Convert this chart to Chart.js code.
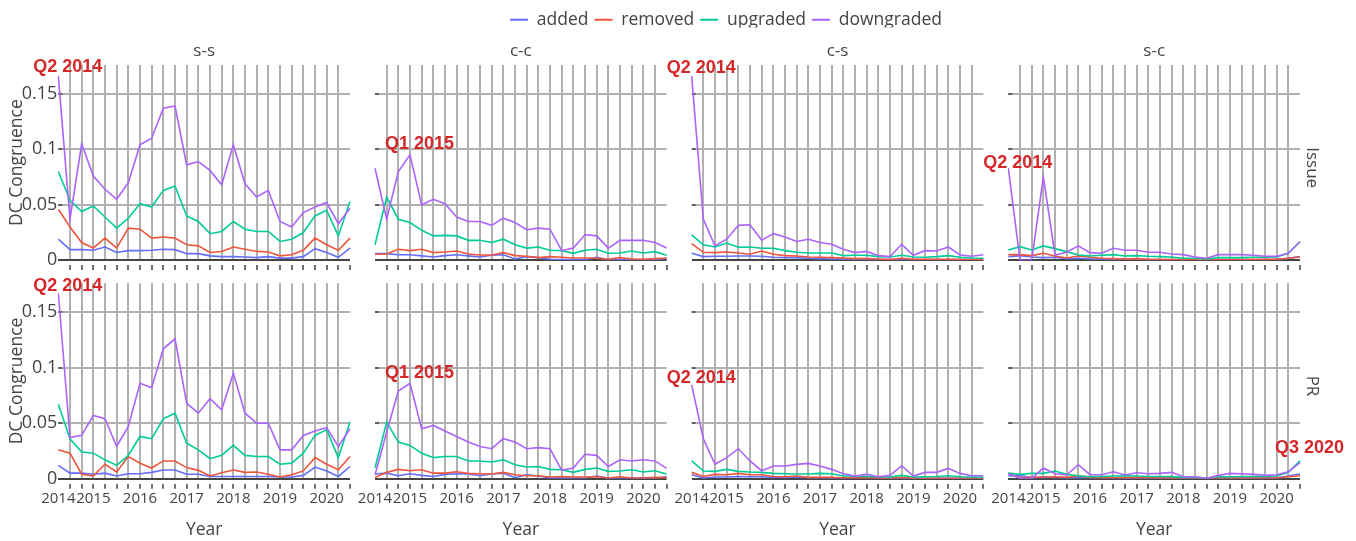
<!DOCTYPE html>
<html><head><meta charset="utf-8">
<script src="https://cdn.jsdelivr.net/npm/chart.js@4.4.1/dist/chart.umd.min.js"></script>
<style>
html,body{margin:0;padding:0;background:#fff;}
#wrap{position:relative;width:1356px;height:541px;overflow:hidden;background:#fff;}
#wrap canvas{position:absolute;top:0;}
</style></head><body><div id="wrap"></div>
<script>
// ---------- data ----------
const quarters = ['Q2 2014','Q3 2014','Q4 2014','Q1 2015','Q2 2015','Q3 2015','Q4 2015','Q1 2016','Q2 2016','Q3 2016','Q4 2016','Q1 2017','Q2 2017','Q3 2017','Q4 2017','Q1 2018','Q2 2018','Q3 2018','Q4 2018','Q1 2019','Q2 2019','Q3 2019','Q4 2019','Q1 2020','Q2 2020','Q3 2020'];
const xTickLabels = ['2014','','','2015','','','','2016','','','','2017','','','','2018','','','','2019','','','','2020','',''];
const yTickValues = [0, 0.05, 0.1, 0.15];
const yTickLabels = ['0', '0.05', '0.1', '0.15'];
const seriesNames = ['added', 'removed', 'upgraded', 'downgraded'];
const rowNames = ['Issue', 'PR'];
const colNames = ['s-s', 'c-c', 'c-s', 's-c'];

// Issue row
const issueSS_added = [0.019,0.0096,0.0096,0.009,0.012,0.007,0.0087,0.0087,0.009,0.010,0.0096,0.006,0.006,0.004,0.0033,0.0033,0.003,0.0024,0.0033,0.002,0.002,0.0033,0.0105,0.007,0.0027,0.011];
const issueSS_removed = [0.046,0.030,0.016,0.011,0.020,0.011,0.029,0.028,0.020,0.021,0.020,0.014,0.013,0.007,0.008,0.012,0.010,0.008,0.0075,0.004,0.005,0.009,0.020,0.014,0.009,0.020];
const issueSS_upgraded = [0.080,0.054,0.044,0.049,0.039,0.029,0.038,0.051,0.048,0.063,0.067,0.040,0.035,0.024,0.026,0.035,0.028,0.026,0.026,0.017,0.019,0.025,0.040,0.045,0.022,0.053];
const issueSS_downgraded = [0.166,0.037,0.105,0.076,0.064,0.055,0.070,0.104,0.110,0.137,0.139,0.086,0.089,0.081,0.068,0.104,0.069,0.057,0.063,0.035,0.030,0.043,0.048,0.052,0.033,0.047];

const issueCC_added = [0.006,0.006,0.005,0.005,0.004,0.003,0.0042,0.005,0.004,0.003,0.0045,0.005,0.0012,0.0033,0.0024,0.0009,0.0006,0.0006,0.0006,0.0027,0.0006,0.0006,0.0006,0.0006,0.0006,0.0018];
const issueCC_removed = [0.0054,0.0057,0.010,0.0087,0.0099,0.0069,0.0075,0.0084,0.0057,0.0048,0.0048,0.0069,0.0042,0.0036,0.0024,0.0033,0.0027,0.0021,0.0021,0.0018,0.0009,0.0024,0.0012,0.0009,0.0015,0.0018];
const issueCC_upgraded = [0.014,0.057,0.037,0.034,0.027,0.022,0.0225,0.022,0.018,0.018,0.016,0.019,0.014,0.011,0.012,0.009,0.0087,0.0063,0.009,0.010,0.0063,0.0066,0.0084,0.0066,0.0078,0.0045];
const issueCC_downgraded = [0.083,0.037,0.080,0.095,0.050,0.055,0.051,0.039,0.035,0.035,0.0315,0.038,0.034,0.0276,0.029,0.028,0.0087,0.011,0.023,0.022,0.011,0.018,0.018,0.018,0.016,0.011];

const issueCS_added = [0.0063,0.0033,0.0036,0.0036,0.0039,0.0039,0.0036,0.0027,0.0024,0.0024,0.0018,0.0015,0.0012,0.0012,0.0009,0.0009,0.0006,0.0006,0.0009,0.0006,0.0006,0.0006,0.0006,0.0006,0.0006,0.0006];
const issueCS_removed = [0.015,0.0072,0.0069,0.0075,0.0066,0.0054,0.0084,0.0054,0.0042,0.0039,0.003,0.0027,0.0024,0.0021,0.0015,0.0015,0.0012,0.0006,0.0018,0.0009,0.0009,0.0009,0.0009,0.0006,0.0006,0.0006];
const issueCS_upgraded = [0.023,0.014,0.012,0.0156,0.0117,0.012,0.0108,0.0108,0.0087,0.0072,0.0066,0.0066,0.0066,0.0042,0.0045,0.0045,0.0033,0.003,0.0045,0.003,0.0027,0.0033,0.0042,0.0027,0.0021,0.0018];
const issueCS_downgraded = [0.166,0.037,0.013,0.019,0.0315,0.032,0.018,0.024,0.021,0.017,0.019,0.016,0.0144,0.0099,0.0069,0.008,0.0042,0.0033,0.0144,0.0045,0.0087,0.0084,0.012,0.0048,0.0036,0.005];

const issueSC_added = [0.0033,0.0042,0.003,0.0024,0.0027,0.0015,0.0018,0.0012,0.0012,0.0009,0.0009,0.0009,0.0006,0.0006,0.0006,0.0006,0.0006,0.0006,0.0006,0.0006,0.0006,0.0006,0.0006,0.0009,0.0018,0.0033];
const issueSC_removed = [0.0051,0.0051,0.0042,0.0063,0.0039,0.0021,0.0039,0.0027,0.0018,0.0015,0.0012,0.0015,0.0009,0.0006,0.0006,0.0006,0.0006,0.0006,0.0006,0.0006,0.0006,0.0006,0.0009,0.0009,0.0018,0.003];
const issueSC_upgraded = [0.0093,0.0123,0.0093,0.013,0.0105,0.0078,0.0048,0.0039,0.0045,0.0051,0.0039,0.0042,0.0036,0.0033,0.003,0.0018,0.0018,0.0012,0.0024,0.0024,0.0024,0.0027,0.0027,0.003,0.0063,0.0168];
const issueSC_downgraded = [0.083,0.0,0.0,0.075,0.0048,0.0072,0.013,0.0069,0.0063,0.0108,0.009,0.009,0.0072,0.0072,0.0057,0.0051,0.003,0.0018,0.0051,0.0051,0.0051,0.0045,0.0036,0.0036,0.0063,0.017];

// PR row
const prSS_added = [0.012,0.005,0.005,0.004,0.005,0.0025,0.0045,0.0045,0.0057,0.0078,0.0078,0.004,0.004,0.002,0.002,0.002,0.002,0.002,0.002,0.0015,0.0015,0.003,0.0105,0.007,0.002,0.011];
const prSS_removed = [0.026,0.023,0.004,0.0025,0.013,0.006,0.020,0.014,0.0096,0.016,0.016,0.010,0.0075,0.0025,0.0054,0.0078,0.0057,0.006,0.004,0.0015,0.0036,0.007,0.019,0.013,0.008,0.020];
const prSS_upgraded = [0.067,0.036,0.024,0.023,0.017,0.012,0.021,0.038,0.036,0.054,0.059,0.032,0.026,0.018,0.021,0.030,0.021,0.020,0.020,0.013,0.014,0.023,0.039,0.044,0.019,0.051];
const prSS_downgraded = [0.167,0.037,0.039,0.057,0.054,0.029,0.047,0.086,0.082,0.117,0.126,0.068,0.059,0.072,0.062,0.095,0.059,0.050,0.050,0.026,0.026,0.039,0.043,0.046,0.029,0.045];

const prCC_added = [0.0042,0.005,0.0027,0.0045,0.003,0.002,0.0039,0.0045,0.0042,0.0027,0.0042,0.005,0.0009,0.0036,0.0024,0.0006,0.0006,0.0006,0.0006,0.0024,0.0006,0.0006,0.0006,0.0006,0.0006,0.0018];
const prCC_removed = [0.001,0.0057,0.0084,0.0072,0.0081,0.005,0.005,0.0063,0.0048,0.0045,0.0042,0.0057,0.0036,0.0027,0.0027,0.0015,0.002,0.0015,0.0015,0.0018,0.0006,0.0018,0.0006,0.0006,0.0012,0.0009];
const prCC_upgraded = [0.0096,0.051,0.033,0.030,0.023,0.019,0.020,0.020,0.016,0.016,0.015,0.017,0.0126,0.0105,0.011,0.0084,0.0081,0.0057,0.0084,0.0096,0.0066,0.0069,0.0081,0.006,0.0072,0.0042];
const prCC_downgraded = [0.0033,0.042,0.079,0.086,0.045,0.048,0.043,0.038,0.033,0.029,0.027,0.036,0.033,0.027,0.028,0.027,0.0078,0.0096,0.022,0.021,0.011,0.017,0.016,0.017,0.016,0.0093];

const prCS_added = [0.0036,0.0006,0.0015,0.0015,0.002,0.0018,0.0018,0.0012,0.0012,0.0015,0.0009,0.0009,0.0006,0.0006,0.0012,0.0012,0.0006,0.0003,0.0006,0.0003,0.0003,0.0003,0.0003,0.0003,0.0003,0.0003];
const prCS_removed = [0.0057,0.002,0.0039,0.0036,0.0048,0.0036,0.0036,0.002,0.0018,0.0024,0.0012,0.0012,0.0012,0.0009,0.0006,0.0006,0.0006,0.0003,0.0012,0.0003,0.0003,0.0003,0.0003,0.0003,0.0003,0.0003];
const prCS_upgraded = [0.016,0.0069,0.0066,0.0084,0.0066,0.006,0.0057,0.0048,0.0045,0.0042,0.0042,0.0048,0.0045,0.0024,0.0027,0.002,0.0018,0.0015,0.003,0.0015,0.0018,0.002,0.0027,0.0018,0.0015,0.0012];
const prCS_downgraded = [0.0845,0.036,0.013,0.019,0.027,0.016,0.0072,0.0114,0.0114,0.0129,0.0138,0.0114,0.0084,0.0045,0.0024,0.0039,0.0018,0.003,0.0117,0.0024,0.0057,0.0057,0.0093,0.0048,0.0027,0.0027];

const prSC_added = [0.0024,0.003,0.0009,0.0012,0.0012,0.0006,0.0012,0.0009,0.0009,0.0009,0.0006,0.0006,0.0006,0.0006,0.0006,0.0006,0.0006,0.0003,0.0006,0.0006,0.0006,0.0006,0.0006,0.0009,0.0024,0.0042];
const prSC_removed = [0.0048,0.0009,0.0015,0.0015,0.0018,0.0012,0.0024,0.0012,0.0009,0.0009,0.0009,0.0012,0.0009,0.0006,0.0006,0.0006,0.0006,0.0003,0.0006,0.0006,0.0006,0.0006,0.0006,0.0006,0.0018,0.0027];
const prSC_upgraded = [0.0051,0.0039,0.0048,0.0048,0.0069,0.0039,0.0027,0.0018,0.002,0.0024,0.0027,0.0024,0.002,0.002,0.002,0.0012,0.0012,0.0006,0.0018,0.0018,0.002,0.002,0.002,0.0024,0.0057,0.016];
const prSC_downgraded = [0.0045,0.0003,0.0003,0.0096,0.0045,0.0033,0.0126,0.0036,0.0036,0.0063,0.0033,0.0054,0.0045,0.0048,0.0057,0.0018,0.0018,0.0003,0.003,0.0048,0.0045,0.0039,0.003,0.0036,0.0063,0.0144];

// annotations (quarter index of the marked point, value at the text centre)
const annLabels = ['Q2 2014','Q1 2015','Q2 2014','Q2 2014','Q2 2014','Q1 2015','Q2 2014','Q3 2020'];
const annRow = [0,0,0,0,1,1,1,1];
const annCol = [0,1,2,3,0,1,2,3];
const annIndex = [0,3,0,0,0,3,0,25];
const annValue = [0.1745,0.1047,0.1736,0.0873,0.1731,0.0950,0.0905,0.0274];

const panelData = [
  [[issueSS_added,issueSS_removed,issueSS_upgraded,issueSS_downgraded],
   [issueCC_added,issueCC_removed,issueCC_upgraded,issueCC_downgraded],
   [issueCS_added,issueCS_removed,issueCS_upgraded,issueCS_downgraded],
   [issueSC_added,issueSC_removed,issueSC_upgraded,issueSC_downgraded]],
  [[prSS_added,prSS_removed,prSS_upgraded,prSS_downgraded],
   [prCC_added,prCC_removed,prCC_upgraded,prCC_downgraded],
   [prCS_added,prCS_removed,prCS_upgraded,prCS_downgraded],
   [prSC_added,prSC_removed,prSC_upgraded,prSC_downgraded]]
];

// ---------- style / layout ----------
const W = 1356, H = 541;
const colors = ['#636EFA', '#EF553B', '#00CC96', '#AB63FA'];
const GRID = '#b1b1b1';
const INK = '#444444';
const Y_MAX = 0.176;
const PANEL_L0 = 58.33, PANEL_STEP = 316.67, PANEL_W = 291.67;
const ROW_TOP = [65, 283.3], ROW_BOT = [260.3, 478.7];
const FONT = '"Open Sans", "Noto Sans", sans-serif';
Chart.defaults.font.family = FONT;
Chart.defaults.color = INK;

const wrap = document.getElementById('wrap');
function newCanvas(left, w, h) {
  const c = document.createElement('canvas');
  c.width = w; c.height = h;
  c.style.left = left + 'px';
  c.style.width = w + 'px'; c.style.height = h + 'px';
  wrap.appendChild(c);
  return c;
}

const decor = {
  id: 'decor',
  beforeDatasetsDraw(chart, args, o) {
    const {ctx, chartArea, scales} = chart;
    ctx.save();
    ctx.strokeStyle = INK; ctx.lineWidth = 1.5;
    yTickValues.forEach(v => {
      if (v === 0) return;
      const y = Math.round(scales.y.getPixelForValue(v));
      ctx.beginPath(); ctx.moveTo(chartArea.left, y); ctx.lineTo(chartArea.left + 4, y); ctx.stroke();
    });
    ctx.restore();
  },
  afterDraw(chart, args, o) {
    const {ctx, chartArea, scales} = chart;
    ctx.save();
    ctx.fillStyle = INK;
    ctx.font = '17px ' + FONT;
    ctx.textAlign = 'center'; ctx.textBaseline = 'middle';
    if (o.row === 0) {
      ctx.fillText(colNames[o.col], (chartArea.left + chartArea.right) / 2, chartArea.top - 14);
    }
    if (o.col === 3) {
      ctx.save();
      ctx.translate(chartArea.right + 12, (chartArea.top + chartArea.bottom) / 2 + 5);
      ctx.rotate(Math.PI / 2);
      ctx.fillText(rowNames[o.row], 0, 0);
      ctx.restore();
    }
    ctx.fillStyle = '#d62728';
    ctx.font = 'bold 18px "Liberation Sans", Arial, sans-serif';
    for (let k = 0; k < annLabels.length; k++) {
      if (annRow[k] !== o.row || annCol[k] !== o.col) continue;
      const x = scales.x.getPixelForValue(annIndex[k]) + 9.5;
      const y = scales.y.getPixelForValue(annValue[k]);
      ctx.fillText(annLabels[k], x, y);
    }
    ctx.restore();
  }
};

for (let r = 0; r < 2; r++) {
  for (let c = 0; c < 4; c++) {
    const left = PANEL_L0 + c * PANEL_STEP, right = left + PANEL_W;
    const top = ROW_TOP[r], bottom = ROW_BOT[r];
    const canvas = newCanvas(0, W, H);
    new Chart(canvas, {
      type: 'line',
      data: {
        labels: quarters,
        datasets: seriesNames.map((n, k) => ({
          label: n, data: panelData[r][c][k], borderColor: colors[k], backgroundColor: colors[k],
          borderWidth: 1.6, pointRadius: 0, tension: 0, fill: false, order: 3 - k
        }))
      },
      options: {
        responsive: false, animation: false, events: [], devicePixelRatio: 1,
        layout: { padding: { left: 0, top: top, right: W - right, bottom: 0 } },
        plugins: { legend: { display: false }, tooltip: { enabled: false }, decor: { row: r, col: c } },
        scales: {
          x: {
            type: 'category', offset: false, position: 'bottom',
            afterFit: s => { s.height = H - bottom; },
            grid: {
              z: -2, lineWidth: 2, offset: false,
              color: ctx => (ctx.index === 0 || ctx.index === quarters.length - 1) ? 'rgba(0,0,0,0)' : GRID,
              drawTicks: true, tickLength: 10, tickWidth: 1.5,
              tickColor: ctx => ctx.index === 0 ? 'rgba(0,0,0,0)' : INK,
              tickBorderDash: [0, 5, 5, 30]
            },
            border: { display: false },
            ticks: {
              display: r === 1, autoSkip: false, maxRotation: 0, minRotation: 0, padding: 1,
              font: { size: 15 }, color: INK,
              callback: (v, i) => xTickLabels[i]
            },
            title: { display: r === 1, text: 'Year', color: INK, font: { size: 17.5 }, padding: { top: 0, bottom: 0 } }
          },
          y: {
            type: 'linear', position: 'left', min: 0, max: Y_MAX,
            afterFit: s => { s.width = left; },
            afterBuildTicks: s => { s.ticks = yTickValues.map(v => ({ value: v })); },
            grid: {
              z: -1, lineWidth: 2, drawTicks: false,
              color: ctx => (ctx.tick && ctx.tick.value === 0) ? INK : GRID
            },
            border: { display: false },
            ticks: {
              display: c === 0, padding: 1, font: { size: 18 }, color: INK,
              callback: v => yTickLabels[yTickValues.indexOf(v)]
            },
            title: { display: c === 0, text: 'DC Congruence', color: INK, font: { size: 17.5 }, padding: { top: 7, bottom: 0 } }
          }
        }
      },
      plugins: [decor]
    });
  }
}

// legend (own small chart so it can be centred like the reference)
const legCanvas = newCanvas(96, 1260, 50);
new Chart(legCanvas, {
  type: 'line',
  data: { labels: [], datasets: seriesNames.map((n, k) => ({ label: n, data: [], borderColor: colors[k], backgroundColor: colors[k], borderWidth: 2 })) },
  options: {
    responsive: false, animation: false, events: [], devicePixelRatio: 1,
    layout: { padding: { top: 5 } },
    scales: { x: { display: false }, y: { display: false } },
    plugins: {
      tooltip: { enabled: false },
      legend: {
        display: true, position: 'top',
        labels: { usePointStyle: true, pointStyle: 'line', pointStyleWidth: 18, padding: 6, color: INK, font: { size: 17.5 } }
      }
    }
  }
});
</script></body></html>
